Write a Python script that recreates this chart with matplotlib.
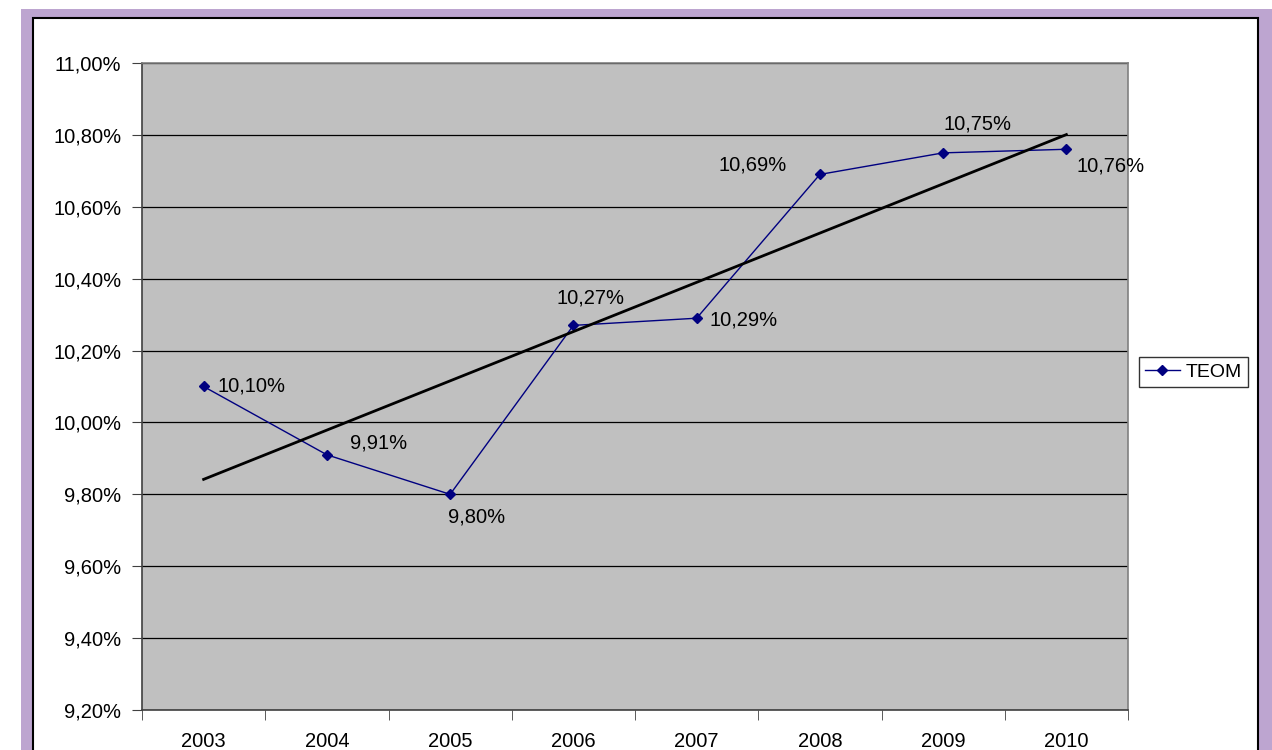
import matplotlib.pyplot as plt
import numpy as np
from matplotlib.patches import Rectangle
from matplotlib.ticker import FixedLocator, FuncFormatter

# Data
years = ["2003", "2004", "2005", "2006", "2007", "2008", "2009", "2010"]
teom = [10.10, 9.91, 9.80, 10.27, 10.29, 10.69, 10.75, 10.76]
# label offsets (points) and horizontal alignment for each data label
label_offsets = [(10, 0), (16.5, 8.6), (19, -16.5), (12, 20), (9, -1.5), (-24, 7), (0, 21), (7, -12)]
label_ha = ["left", "left", "center", "center", "left", "right", "left", "left"]

plt.rcParams["font.family"] = ["Liberation Sans", "DejaVu Sans"]

W, H = 1272, 750
fig = plt.figure(figsize=(W / 100, H / 100), dpi=100)
fig.patch.set_facecolor("white")

# purple frame and white chart panel
fig.patches.append(Rectangle((21 / W, -0.2), (W - 21) / W + 0.1, (H - 9) / H + 0.2,
                             transform=fig.transFigure, facecolor="#bda5d0",
                             edgecolor="none", zorder=0))
fig.patches.append(Rectangle((33 / W, -0.2), (1258 - 33) / W, (H - 18) / H + 0.2,
                             transform=fig.transFigure, facecolor="white",
                             edgecolor="black", linewidth=1.5, zorder=1))

ax = fig.add_axes([142 / W, (H - 710) / H, (1128 - 142) / W, (710 - 63) / H])
ax.set_facecolor("#c0c0c0")
ax.set_zorder(2)

x = np.arange(len(years))
ax.plot(x, teom, color="#000080", linewidth=1, marker="D", markersize=5,
        label="TEOM", zorder=3)

# linear trend line
coef = np.polyfit(x, teom, 1)
ax.plot(x, np.polyval(coef, x), color="black", linewidth=2, zorder=4)

for xi, v, off, ha in zip(x, teom, label_offsets, label_ha):
    ax.annotate(f"{v:.2f}%".replace(".", ","), (xi, v), xytext=off,
                textcoords="offset points", ha=ha, va="center", fontsize=14.5,
                color="black", zorder=5)

ax.set_xlim(-0.5, len(years) - 0.5)
ax.set_ylim(9.2, 11.0)
ax.set_yticks(np.arange(9.2, 11.01, 0.2))
ax.yaxis.set_major_formatter(FuncFormatter(lambda v, p: f"{v:.2f}%".replace(".", ",")))
ax.yaxis.grid(True, color="black", linewidth=0.9)
ax.set_axisbelow(True)

ax.set_xticks(x)
ax.set_xticklabels(years)
ax.xaxis.set_minor_locator(FixedLocator(np.arange(-0.5, len(years), 1.0)))
ax.tick_params(axis="x", which="major", length=0, pad=16, labelsize=14.5)
ax.tick_params(axis="x", which="minor", length=7, direction="out", color="#404040")
ax.tick_params(axis="y", length=7, direction="out", pad=8, labelsize=14.5, color="#404040")

for side in ["top", "right"]:
    ax.spines[side].set_color("#808080")
    ax.spines[side].set_linewidth(1.2)
for side in ["left", "bottom"]:
    ax.spines[side].set_color("#404040")
    ax.spines[side].set_linewidth(1.2)

leg = fig.legend(loc="center left", bbox_to_anchor=(1139 / W, (H - 372) / H),
                 fontsize=14, frameon=True, fancybox=False, handlelength=1.8,
                 handletextpad=0.3, borderpad=0.3, borderaxespad=0)
leg.get_frame().set_edgecolor("black")
leg.get_frame().set_linewidth(1)
leg.set_zorder(5)

fig.savefig("out.png", dpi=100)
